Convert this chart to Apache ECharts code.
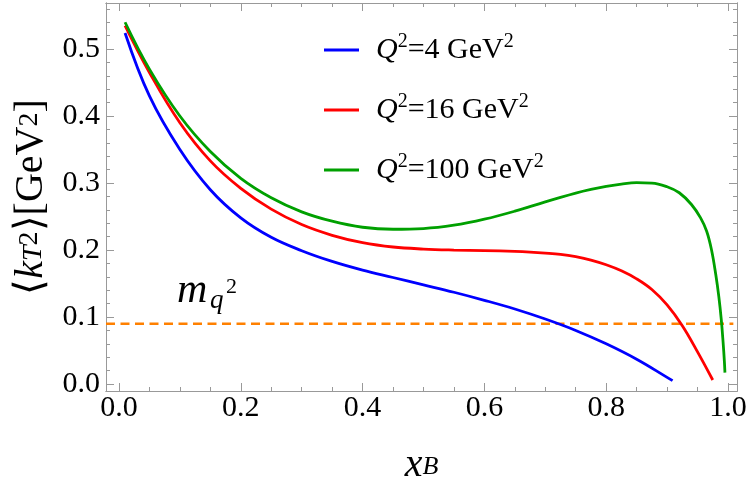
<!DOCTYPE html>
<html>
<head>
<meta charset="utf-8">
<script src="https://cdn.jsdelivr.net/npm/echarts@6/dist/echarts.min.js"></script>
<style>
html, body { margin: 0; padding: 0; background: #fff; }
#chart { width: 750px; height: 496px; }
</style>
</head>
<body>
<div id="chart"></div>
<script>
// 三条曲线: Q^2 = 4, 16, 100 GeV^2 (从图上读出的点)
const q2Values = [4, 16, 100];
const lineColors = ['#0000ff', '#ff0000', '#00a000'];

const xb4 = [0.01, 0.05, 0.1, 0.15, 0.2, 0.25, 0.3, 0.35, 0.4, 0.45, 0.5, 0.55, 0.6, 0.65, 0.7, 0.75, 0.8, 0.85, 0.9, 0.909];
const kt4 = [0.524, 0.43, 0.35, 0.29, 0.248, 0.219, 0.199, 0.183, 0.17, 0.159, 0.148, 0.137, 0.125, 0.112, 0.097, 0.08, 0.06, 0.037, 0.01, 0.005];

const xb16 = [0.01, 0.05, 0.1, 0.15, 0.2, 0.25, 0.3, 0.35, 0.4, 0.45, 0.5, 0.55, 0.6, 0.65, 0.675, 0.7, 0.725, 0.75, 0.775, 0.8, 0.825, 0.85, 0.875, 0.9, 0.925, 0.95, 0.975];
const kt16 = [0.535, 0.465, 0.39, 0.333, 0.292, 0.261, 0.238, 0.222, 0.211, 0.2045, 0.2015, 0.2, 0.1992, 0.198, 0.197, 0.1955, 0.1935, 0.19, 0.185, 0.178, 0.169, 0.157, 0.141, 0.118, 0.087, 0.048, 0.006];

const xb100 = [0.01, 0.05, 0.1, 0.15, 0.2, 0.25, 0.3, 0.35, 0.4, 0.45, 0.5, 0.55, 0.6, 0.65, 0.7, 0.75, 0.775, 0.8, 0.825, 0.85, 0.875, 0.9, 0.92, 0.94, 0.955, 0.965, 0.973, 0.98, 0.985, 0.989, 0.992, 0.994, 0.995];
const kt100 = [0.54, 0.47, 0.4, 0.347, 0.307, 0.278, 0.257, 0.243, 0.234, 0.231, 0.232, 0.237, 0.246, 0.258, 0.272, 0.285, 0.2905, 0.295, 0.2985, 0.3005, 0.3, 0.2945, 0.2855, 0.268, 0.248, 0.228, 0.2, 0.163, 0.13, 0.096, 0.062, 0.035, 0.017];

// m_q^2 虚线
const mq2 = 0.09;

// 刻度
const xMajor = [0, 0.2, 0.4, 0.6, 0.8, 1.0];
const xMinor = [0.05, 0.1, 0.15, 0.25, 0.3, 0.35, 0.45, 0.5, 0.55, 0.65, 0.7, 0.75, 0.85, 0.9, 0.95];
const yMajor = [0, 0.1, 0.2, 0.3, 0.4, 0.5];
const yMinor = [0.02, 0.04, 0.06, 0.08, 0.12, 0.14, 0.16, 0.18, 0.22, 0.24, 0.26, 0.28, 0.32, 0.34, 0.36, 0.38, 0.42, 0.44, 0.46, 0.48, 0.52, 0.54, 0.56];

const X_MIN = -0.0213, X_MAX = 1.0148;
const Y_MIN = -0.0104, Y_MAX = 0.5687;

const serif = 'Liberation Serif, Times New Roman, serif';
const frameColor = '#999999';

function zip(xs, ys) {
    return xs.map((x, i) => [x, ys[i]]);
}

function makeAxis(dim, pos, vals, len, withLabel) {
    let ax = {
        type: 'value',
        position: pos,
        min: dim === 'x' ? X_MIN : Y_MIN,
        max: dim === 'x' ? X_MAX : Y_MAX,
        axisLine: { show: true, onZero: false, lineStyle: { color: frameColor, width: 1 } },
        axisTick: { show: true, inside: true, length: len, customValues: vals, lineStyle: { color: frameColor, width: 1 } },
        axisLabel: { show: false },
        splitLine: { show: false }
    };
    if (withLabel) {
        ax.axisLabel = {
            show: true,
            customValues: vals,
            formatter: v => v.toFixed(1),
            fontFamily: serif,
            fontSize: 30,
            color: '#000',
            margin: dim === 'x' ? 2 : 6
        };
    }
    return ax;
}

let xAxes = [
    makeAxis('x', 'bottom', xMajor, 8, true),
    makeAxis('x', 'bottom', xMinor, 4, false),
    makeAxis('x', 'top', xMajor, 8, false),
    makeAxis('x', 'top', xMinor, 4, false)
];
xAxes[0].name = '{x|x}{b|B}';
xAxes[0].nameLocation = 'middle';
xAxes[0].nameGap = 59;
xAxes[0].nameTextStyle = {
    fontFamily: serif,
    rich: {
        x: { fontFamily: serif, fontStyle: 'italic', fontSize: 40, lineHeight: 30, verticalAlign: 'middle', color: '#000' },
        b: { fontFamily: serif, fontStyle: 'italic', fontSize: 26, lineHeight: 10, verticalAlign: 'bottom', color: '#000' }
    }
};

let yAxes = [
    makeAxis('y', 'left', yMajor, 8, true),
    makeAxis('y', 'left', yMinor, 4, false),
    makeAxis('y', 'right', yMajor, 8, false),
    makeAxis('y', 'right', yMinor, 4, false)
];
yAxes[0].name = '{n|⟨}{i|k}{sub|T}{sup|2}{n|⟩[GeV}{sup|2}{n|]}';
yAxes[0].nameLocation = 'middle';
yAxes[0].nameRotate = 90;
yAxes[0].nameGap = 58;
yAxes[0].nameTextStyle = {
    fontFamily: serif,
    rich: {
        n: { fontFamily: serif, fontSize: 40, lineHeight: 32, verticalAlign: 'middle', color: '#000' },
        i: { fontFamily: serif, fontStyle: 'italic', fontSize: 40, lineHeight: 32, verticalAlign: 'middle', color: '#000' },
        sub: { fontFamily: serif, fontStyle: 'italic', fontSize: 28, lineHeight: 14, verticalAlign: 'bottom', color: '#000' },
        sup: { fontFamily: serif, fontSize: 28, lineHeight: 24, verticalAlign: 'top', color: '#000' }
    }
};

const seriesData = [zip(xb4, kt4), zip(xb16, kt16), zip(xb100, kt100)];
const names = q2Values.map(q => 'Q²=' + q + ' GeV²');

let series = names.map((nm, i) => ({
    name: nm,
    type: 'line',
    data: seriesData[i],
    showSymbol: false,
    smooth: 0.4,
    lineStyle: { width: 2.8, color: lineColors[i] },
    itemStyle: { color: lineColors[i] },
    xAxisIndex: 0,
    yAxisIndex: 0,
    z: 3
}));

series.push({
    name: 'mq2',
    type: 'line',
    data: [[X_MIN, mq2], [X_MAX - 0.006, mq2]],
    showSymbol: false,
    lineStyle: { width: 2.6, color: '#ff8000', type: [9, 5.5] },
    itemStyle: { color: '#ff8000' },
    xAxisIndex: 0,
    yAxisIndex: 0,
    z: 2
});

function label(txt, x, y, size, italic) {
    return {
        type: 'text', x: x, y: y, z: 10,
        style: {
            text: txt,
            fontFamily: serif,
            fontSize: size,
            fontStyle: italic ? 'italic' : 'normal',
            fill: '#000',
            align: 'left',
            verticalAlign: 'middle'
        }
    };
}

let myChart = echarts.init(document.getElementById('chart'));
let option = {
    animation: false,
    backgroundColor: '#fff',
    grid: { left: 106, right: 13, top: 3, bottom: 105 },
    xAxis: xAxes,
    yAxis: yAxes,
    legend: {
        data: names,
        orient: 'vertical',
        left: 319,
        top: 27,
        icon: 'rect',
        itemWidth: 35,
        itemHeight: 3,
        itemGap: 27,
        selectedMode: false,
        formatter: function (nm) {
            let q = q2Values[names.indexOf(nm)];
            return '{q|Q}{s|2}{n|=' + q + ' GeV}{s|2}';
        },
        textStyle: {
            fontFamily: serif,
            fontSize: 30,
            color: '#000',
            rich: {
                q: { fontFamily: serif, fontStyle: 'italic', fontSize: 30, lineHeight: 36, verticalAlign: 'middle', padding: [0, 0, 0, 12], color: '#000' },
                n: { fontFamily: serif, fontSize: 30, lineHeight: 36, verticalAlign: 'middle', color: '#000' },
                s: { fontFamily: serif, fontSize: 20, lineHeight: 20, verticalAlign: 'top', color: '#000' }
            }
        }
    },
    // m_q^2 标注
    graphic: [
        label('m', 177, 291, 42, true),
        label('q', 210, 301, 27, true),
        label('2', 226, 287, 22, false)
    ],
    series: series
};
myChart.setOption(option);
</script>
</body>
</html>
